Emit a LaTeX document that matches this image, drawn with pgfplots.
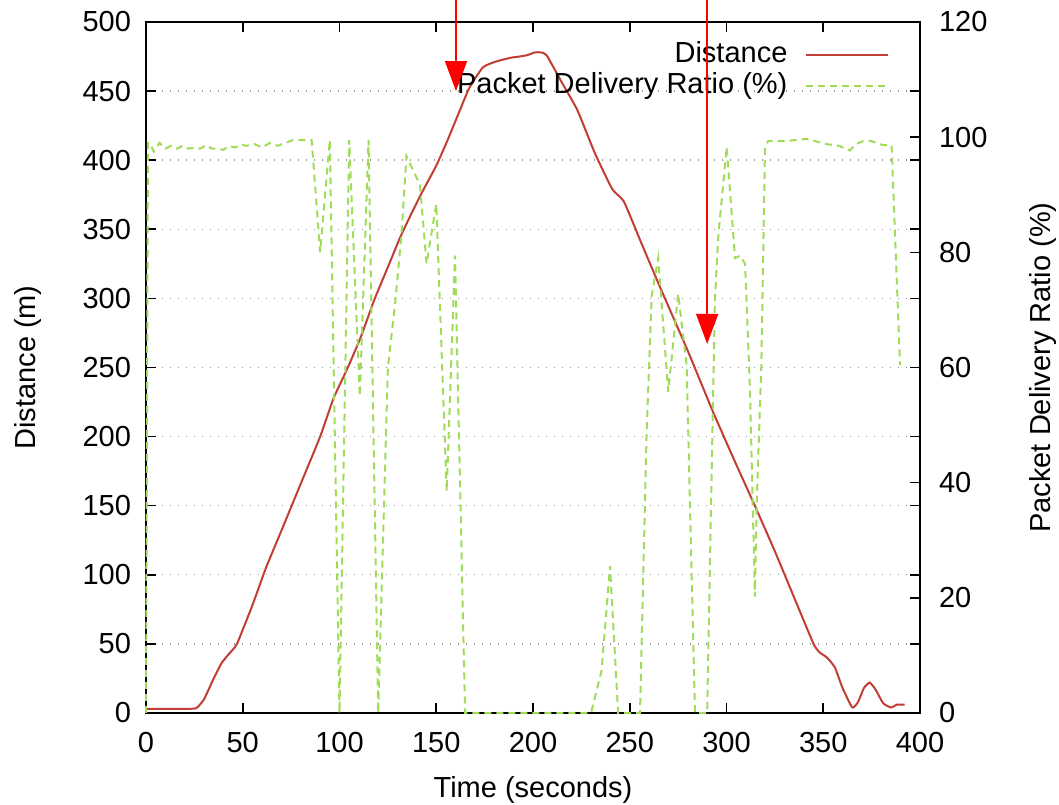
\documentclass[border=0pt]{standalone}
\usepackage{fontspec}
\setmainfont{Liberation Sans}
\usepackage{pgfplots}
\pgfplotsset{compat=1.18}
\usepackage{pgfplotstable}
\usetikzlibrary{arrows.meta}
\definecolor{distred}{RGB}{192,62,52}
\definecolor{pdrgreen}{RGB}{160,220,90}
\definecolor{gridgray}{RGB}{150,150,150}
\definecolor{arrowred}{RGB}{255,0,0}
\newcommand{\fs}{\fontsize{14.5}{17}\selectfont}

\pgfplotstableread{
t d
0 3
10 3
20 3
26 3.5
30 10
35 25
39 36
43 43
47 50
55 78
62 105
70 132
80 166
90 200
97 228
104 249
111 272
118 299
126 326
131 343
136 358
142 375
150 396
156 415
161 432
167 452
174 467
180 471
188 474
193 475
197 476
201 478
204 478
207 476
215 456
223 436
232 405
241 379
247 370
256 340
266 307
280 262
293 218
304 183
314 152
325 117
336 80
345 50
348 44
352 40
356 33
360 18
365 4
368 8
371 18
374 22
377 17
381 7
385 4
388 6
392 6
}\distdata

\pgfplotstableread{
t p
0 0
1 99
2 99
4 97.5
7 99
10 98
13 98.5
16 98
19 98.5
22 98
25 98.2
28 98
31 98.6
34 98
37 98
40 97.8
43 98.5
46 98.2
49 98.7
52 98.5
56 98.8
60 98.2
64 99
68 98.5
72 99
76 99.5
80 99.5
85.6 99.5
90 80
95 99.5
100 0
105 99.5
110.5 55
115 99.5
120 0
122.5 30
125 60
128.7 71
132 83
134.6 96.7
141.6 91.7
145 78
150 88.4
155.4 38.5
159.7 79.4
164.9 0
230 0
235.4 7.3
239.8 25.5
244 0
255.3 0
258.7 48.5
261.3 72.4
264.7 79
269.9 55.8
275 72.8
279.4 60.4
283.7 0
290 0
294 71.7
295.8 83
300.1 98.3
304.4 79
307 79.4
309.6 78
312.1 56.4
314.7 20.2
315.6 36.5
318 60.4
319.9 98.3
321.5 99.3
330 99.3
341.4 99.7
351.7 98.8
358 98.5
363.8 97.7
367 98.8
370.6 99.3
375 99.3
381 98.6
385.3 98.6
389.7 60.4
}\pdrdata

\begin{document}
\begin{tikzpicture}
\begin{axis}[
  name=main,
  scale only axis,
  width=387pt, height=345.5pt,
  xmin=0, xmax=400, ymin=0, ymax=500,
  xtick={0,50,...,400},
  ytick={0,50,...,500},
  tick align=inside,
  xtick pos=both,
  ytick pos=both,
  xticklabel pos=lower,
  yticklabel pos=left,
  major tick length=5pt,
  axis line style={line width=1pt, black},
  every tick/.style={black, line width=0.8pt},
  ymajorgrids,
  grid style={gridgray, line width=0.7pt, dash pattern=on 0.7pt off 3.3pt},
  /pgf/number format/assume math mode=true,
  tick label style={font=\fs},
  label style={font=\fs},
  xticklabel style={yshift=-6pt},
  yticklabel style={xshift=-4pt},
  xlabel={Time (seconds)},
  ylabel={Distance (m)},
  xlabel style={at={(axis description cs:0.5,-0.1114)}, anchor=center},
  ylabel style={at={(axis description cs:-0.1525,0.5)}, anchor=center},
  clip=false,
]
\addplot[distred, line width=1pt, smooth, tension=0.3] table[x=t, y=d] {\distdata};
\coordinate (a1top) at (axis cs:160.2,516);
\coordinate (a1tip) at (axis cs:160.2,450);
\coordinate (a2top) at (axis cs:290,516);
\coordinate (a2tip) at (axis cs:290,267);
\end{axis}
\begin{axis}[
  scale only axis,
  width=387pt, height=345.5pt,
  xmin=0, xmax=400, ymin=0, ymax=120,
  axis x line=none,
  axis y line*=right,
  ytick={0,20,...,120},
  tick align=inside,
  major tick length=5pt,
  axis line style={line width=1pt, black},
  every tick/.style={black, line width=0.8pt},
  /pgf/number format/assume math mode=true,
  tick label style={font=\fs},
  label style={font=\fs},
  yticklabel style={xshift=6pt},
  ylabel={Packet Delivery Ratio (\%)},
  ylabel style={at={(axis description cs:1.159,0.5)}, anchor=center, rotate=0},
  clip=false,
  legend style={draw=none, fill=none, font=\fs, at={(0.961,0.975)}, anchor=north east,
    inner sep=0pt, row sep=0pt,
    nodes={inner sep=1pt, text height=10.5pt, text depth=3pt}},
  legend cell align=right,
  legend plot pos=right,
  legend image code/.code={\path (0pt,0pt); \draw[#1] (8pt,0pt) -- (49pt,0pt);},
]
\addlegendimage{distred, line width=1pt}
\addlegendentry{Distance}
\addplot[pdrgreen, line width=1pt, dash pattern=on 3.5pt off 2.5pt] table[x=t, y=p] {\pdrdata};
\addlegendentry{Packet Delivery Ratio (\%)}
\end{axis}
\draw[arrowred, line width=0.75pt, -{Triangle[width=11pt,length=15pt]}] (a1top) -- (a1tip);
\draw[arrowred, line width=0.75pt, -{Triangle[width=11pt,length=15pt]}] (a2top) -- (a2tip);
\pgfresetboundingbox
\path[use as bounding box] ([xshift=-73pt,yshift=-46pt]main.south west) rectangle ([xshift=69.5pt,yshift=11pt]main.north east);
\end{tikzpicture}
\end{document}
